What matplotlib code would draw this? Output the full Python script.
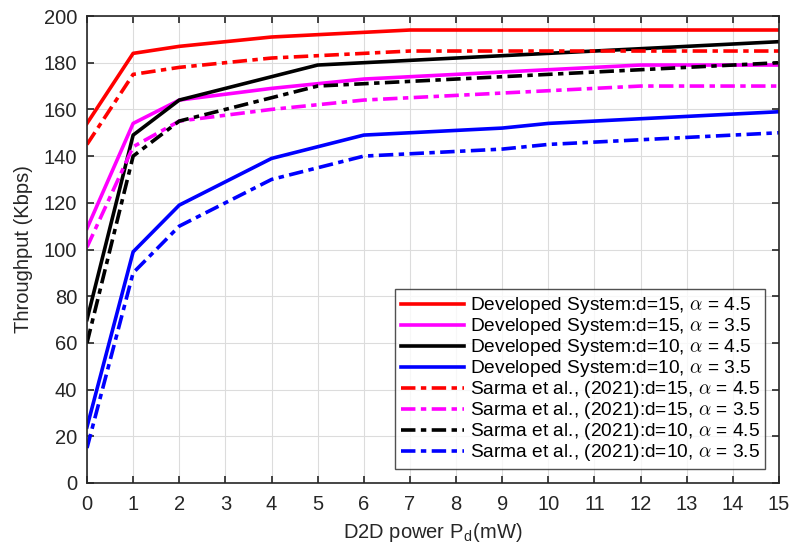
import matplotlib.pyplot as plt
import numpy as np

plt.rcParams['font.family'] = ['Liberation Sans', 'DejaVu Sans']
plt.rcParams['mathtext.fontset'] = 'cm'

# D2D power (mW)
pd_mw = [0, 1, 2, 4, 5, 6, 7, 9, 10, 12, 15]

# Developed system
dev_d15_a45 = [154, 184, 187, 191, 192, 193, 194, 194, 194, 194, 194]
dev_d15_a35 = [109, 154, 164, 169, 171, 173, 174, 176, 177, 179, 179]
dev_d10_a45 = [70, 149, 164, 174, 179, 180, 181, 183, 184, 186, 189]
dev_d10_a35 = [24, 99, 119, 139, 144, 149, 150, 152, 154, 156, 159]

# Sarma et al. (2021)
sar_d15_a45 = [145, 175, 178, 182, 183, 184, 185, 185, 185, 185, 185]
sar_d15_a35 = [101, 144, 155, 160, 162, 164, 165, 167, 168, 170, 170]
sar_d10_a45 = [60, 140, 155, 165, 170, 171, 172, 174, 175, 177, 180]
sar_d10_a35 = [15, 90, 110, 130, 135, 140, 141, 143, 145, 147, 150]

fig = plt.figure(figsize=(7.89, 5.47), dpi=100)
ax = fig.add_axes([87/789, 1-483/547, (779-87)/789, (483-16)/547])

lw = 2.6
ax.plot(pd_mw, dev_d15_a45, color='#ff0000', lw=lw, label=r'Developed System:d=15, $\alpha$ = 4.5')
ax.plot(pd_mw, dev_d15_a35, color='#ff00ff', lw=lw, label=r'Developed System:d=15, $\alpha$ = 3.5')
ax.plot(pd_mw, dev_d10_a45, color='#000000', lw=lw, label=r'Developed System:d=10, $\alpha$ = 4.5')
ax.plot(pd_mw, dev_d10_a35, color='#0000ff', lw=lw, label=r'Developed System:d=10, $\alpha$ = 3.5')
dd = (0, (4, 1.5, 1.5, 1.5))
ax.plot(pd_mw, sar_d15_a45, color='#ff0000', lw=lw, ls=dd, label=r'Sarma et al., (2021):d=15, $\alpha$ = 4.5')
ax.plot(pd_mw, sar_d15_a35, color='#ff00ff', lw=lw, ls=dd, label=r'Sarma et al., (2021):d=15, $\alpha$ = 3.5')
ax.plot(pd_mw, sar_d10_a45, color='#000000', lw=lw, ls=dd, label=r'Sarma et al., (2021):d=10, $\alpha$ = 4.5')
ax.plot(pd_mw, sar_d10_a35, color='#0000ff', lw=lw, ls=dd, label=r'Sarma et al., (2021):d=10, $\alpha$ = 3.5')

ax.set_xlim(0, 15)
ax.set_ylim(0, 200)
ax.set_xticks(np.arange(0, 16, 1))
ax.set_yticks(np.arange(0, 201, 20))
ax.grid(True, color='#dcdcdc', lw=0.8)
ax.tick_params(direction='in', top=True, right=True, labelsize=14.5, length=5, width=1.2, colors='#262626')
ax.tick_params(axis='x', pad=9)
ax.tick_params(axis='y', pad=7)
for s in ax.spines.values():
    s.set_color('#262626')
    s.set_linewidth(1.2)

ax.set_xlabel(r'D2D power P$_{\mathregular{d}}$(mW)', fontsize=14.5, color='#262626', labelpad=5)
ax.set_ylabel('Throughput (Kbps)', fontsize=14.5, color='#262626', labelpad=8)

leg = ax.legend(loc='lower right', fontsize=13.8, handlelength=3.3, frameon=True, fancybox=False,
                edgecolor='#262626', bbox_to_anchor=(0.98, 0.03), borderaxespad=0,
                labelspacing=0.0, handletextpad=0.3, borderpad=0.3)
leg.get_frame().set_linewidth(1.0)

plt.savefig('out.png')
